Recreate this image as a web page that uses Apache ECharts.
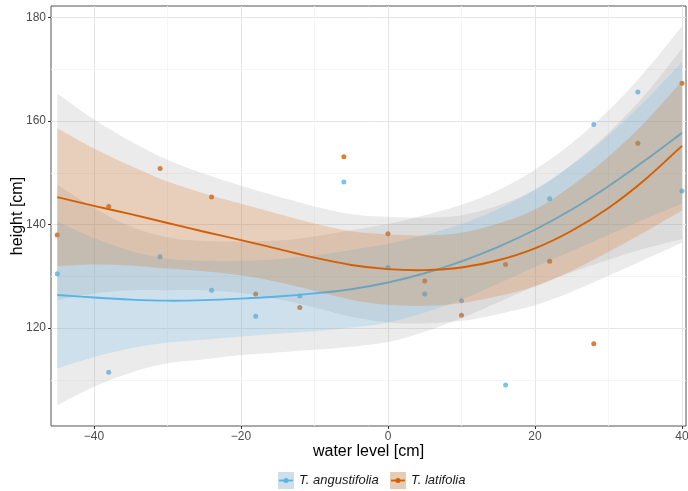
<!DOCTYPE html>
<html><head><meta charset="utf-8">
<script src="https://cdn.jsdelivr.net/npm/echarts@6/dist/echarts.min.js"></script>
<style>html,body{margin:0;padding:0;background:#fff}#c{width:688px;height:491px}</style>
</head><body><div id="c"></div>
<script>
// ---- observed points ----
const waterLevel = [-45,-38,-31,-24,-18,-12,-6,0,5,10,16,22,28,34,40];
const angustifoliaHeight = [130.5,111.5,133.8,127.3,122.3,126.2,148.2,131.7,126.6,125.3,109.0,145.0,159.3,165.6,146.5];
const latifoliaHeight    = [138.0,143.5,150.8,145.3,126.6,124.0,153.1,138.2,129.1,122.5,132.3,132.9,117.0,155.7,167.3];

// ---- smooth fits and ribbons ----
const fitX = [-45,-40,-35,-30,-25,-20,-15,-10,-5,0,5,10,15,20,25,30,35,40];
const angFit   = [126.4,125.9,125.5,125.3,125.4,125.7,126.1,126.7,127.5,128.8,130.6,132.9,135.7,139.0,142.9,147.4,152.4,157.7];
const angInLo  = [112.2,114.4,116.1,117.2,117.8,118.4,118.9,119.4,120.1,121.1,123.0,125.5,128.6,131.8,134.9,138.0,141.1,144.0];
const angInHi  = [140.6,137.4,134.9,133.4,133.0,133.0,133.3,134.0,135.1,136.3,138.0,140.1,143.0,146.8,151.5,157.2,163.9,171.4];
const angOutLo = [105.1,108.7,111.4,113.2,114.0,114.8,115.3,115.8,116.4,117.3,119.3,121.9,125.0,128.1,130.8,133.2,135.4,137.2];
const angOutHi = [147.7,143.2,139.6,137.5,136.8,136.7,136.9,137.7,138.9,140.1,141.8,143.8,146.6,150.6,155.7,162.0,169.6,178.3];

const latFit   = [145.3,143.6,142.0,140.3,138.6,137.0,135.3,133.6,132.2,131.4,131.2,131.7,133.1,135.4,138.8,143.2,148.7,155.2];
const latInLo  = [132.0,132.3,132.1,131.5,131.0,130.2,128.9,127.2,125.5,124.5,124.3,124.8,126.2,128.1,131.1,134.7,138.6,142.7];
const latInHi  = [158.6,154.7,151.3,148.3,146.0,144.0,142.1,140.2,138.7,138.1,137.9,138.4,140.2,142.9,147.5,153.1,159.8,167.7];
const latOutLo = [125.4,126.7,127.3,127.3,127.3,126.8,125.6,124.0,122.2,121.1,120.9,121.4,122.7,124.4,127.0,130.1,133.3,136.5];
const latOutHi = [165.3,160.3,156.1,152.5,149.8,147.5,145.4,143.5,142.0,141.5,141.3,141.8,143.7,146.6,151.6,157.7,165.1,174.0];

// ---- axis ticks ----
const xTicks = [-40,-20,0,20,40];
const yTicks = [120,140,160,180];
const xMinor = [-30,-10,10,30];
const yMinor = [110,130,150,170];

const names = ['T. angustifolia','T. latifolia'];
const BLUE = '#56B4E9', ORANGE = '#D55E00';
const FONT = 'Liberation Sans, Arial, sans-serif';

// Catmull-Rom -> cubic bezier path through pixel points
function curvePath(pts, start) {
  let d = (start ? 'M' : 'L') + pts[0][0] + ',' + pts[0][1];
  for (let i = 0; i < pts.length - 1; i++) {
    const p0 = pts[i-1] || pts[i], p1 = pts[i], p2 = pts[i+1], p3 = pts[i+2] || pts[i+1];
    const c1 = [p1[0] + (p2[0]-p0[0])/6, p1[1] + (p2[1]-p0[1])/6];
    const c2 = [p2[0] - (p3[0]-p1[0])/6, p2[1] - (p3[1]-p1[1])/6];
    d += 'C' + c1[0] + ',' + c1[1] + ',' + c2[0] + ',' + c2[1] + ',' + p2[0] + ',' + p2[1];
  }
  return d;
}

function band(lo, hi, color, z) {
  return {
    type:'custom', silent:true, z:z, data:[[fitX[0], lo[0]]],
    encode:{x:0, y:1},
    renderItem: function (params, api) {
      const up = fitX.map((x,i)=>api.coord([x, hi[i]]));
      const dn = fitX.map((x,i)=>api.coord([x, lo[i]])).reverse();
      return {type:'path', shape:{pathData: curvePath(up, true) + curvePath(dn, false) + 'Z'},
              style:{fill:color, stroke:null}};
    }
  };
}

function fitLine(name, fit, color, z) {
  return {
    type:'custom', name:name, silent:true, z:z, data:[[fitX[0], fit[0]]],
    encode:{x:0, y:1},
    itemStyle:{color:color},
    renderItem: function (params, api) {
      const pts = fitX.map((x,i)=>api.coord([x, fit[i]]));
      return {type:'path', shape:{pathData: curvePath(pts, true)},
              style:{fill:null, stroke:color, lineWidth:1.9}};
    }
  };
}

const gridLines = [];
xTicks.forEach(v=>gridLines.push({xAxis:v, lineStyle:{color:'#e5e5e5', width:1}}));
yTicks.forEach(v=>gridLines.push({yAxis:v, lineStyle:{color:'#e5e5e5', width:1}}));
xMinor.forEach(v=>gridLines.push({xAxis:v, lineStyle:{color:'#f2f2f2', width:0.8}}));
yMinor.forEach(v=>gridLines.push({yAxis:v, lineStyle:{color:'#f2f2f2', width:0.8}}));

const series = [
  {type:'scatter', name:'grid', data:[], z:0, silent:true,
   markLine:{z:0, silent:true, symbol:['none','none'], label:{show:false}, animation:false,
     lineStyle:{type:'solid'}, emphasis:{disabled:true}, data:gridLines}},
  {type:'scatter', name:'pa', data: waterLevel.map((x,i)=>[x, angustifoliaHeight[i]]),
   symbolSize:5, itemStyle:{color:BLUE}, z:1, silent:true},
  {type:'scatter', name:'pl', data: waterLevel.map((x,i)=>[x, latifoliaHeight[i]]),
   symbolSize:5, itemStyle:{color:ORANGE}, z:1, silent:true},
  band(angOutLo, angOutHi, 'rgba(153,153,153,0.2)', 2),
  band(latOutLo, latOutHi, 'rgba(153,153,153,0.2)', 2),
  band(angInLo, angInHi, 'rgba(86,180,233,0.2)', 3),
  fitLine(names[0], angFit, BLUE, 4),
  band(latInLo, latInHi, 'rgba(213,94,0,0.2)', 5),
  fitLine(names[1], latFit, ORANGE, 6)
];

const minusFmt = v => String(v).replace('-', '\u2212');
const legendText = {fontStyle:'italic', fontSize:13, color:'#1a1a1a', fontFamily:FONT};
const chart = echarts.init(document.getElementById('c'), null, {renderer:'canvas'});
chart.setOption({
  animation:false,
  backgroundColor:'#fff',
  grid:{left:51, right:2, top:6, bottom:65, show:true, borderColor:'#555', borderWidth:1,
        backgroundColor:'transparent', containLabel:false, outerBoundsMode:'none'},
  xAxis:{type:'value', min:-45.85, max:40.55,
    name:'water level [cm]', nameLocation:'middle', nameGap:18, nameMoveOverlap:false,
    nameTextStyle:{fontSize:16, color:'#000', fontFamily:FONT},
    axisLine:{show:false, onZero:false},
    axisTick:{show:true, inside:false, length:3, customValues:xTicks, lineStyle:{color:'#333'}},
    axisLabel:{customValues:xTicks, formatter:minusFmt, fontSize:12, color:'#4d4d4d', fontFamily:FONT, margin:5},
    splitLine:{show:false}},
  yAxis:{type:'value', min:101.1, max:182.2,
    name:'height [cm]', nameLocation:'middle', nameGap:25, nameMoveOverlap:false,
    nameTextStyle:{fontSize:16, color:'#000', fontFamily:FONT},
    axisLine:{show:false, onZero:false},
    axisTick:{show:true, inside:false, length:3, customValues:yTicks, lineStyle:{color:'#333'}},
    axisLabel:{customValues:yTicks, fontSize:12, color:'#4d4d4d', fontFamily:FONT, margin:5},
    splitLine:{show:false}},
  legend:[
    {data:[{name:names[0], itemStyle:{color:'#cde0ea'}}], left:278, top:472, padding:0, icon:'rect', itemWidth:16, itemHeight:17, itemGap:0, textStyle:legendText, selectedMode:false},
    {data:[{name:names[1], itemStyle:{color:'#e6cbb5'}}], left:390, top:472, padding:0, icon:'rect', itemWidth:16, itemHeight:17, itemGap:0, textStyle:legendText, selectedMode:false}
  ],
  graphic:[
    {type:'line', shape:{x1:279, y1:480.5, x2:293, y2:480.5}, style:{stroke:BLUE, lineWidth:1.8}, z:100},
    {type:'circle', shape:{cx:286, cy:480.5, r:2.5}, style:{fill:BLUE}, z:100},
    {type:'line', shape:{x1:391, y1:480.5, x2:405, y2:480.5}, style:{stroke:ORANGE, lineWidth:1.8}, z:100},
    {type:'circle', shape:{cx:398, cy:480.5, r:2.5}, style:{fill:ORANGE}, z:100}
  ],
  series: series
});
</script>
</body></html>
